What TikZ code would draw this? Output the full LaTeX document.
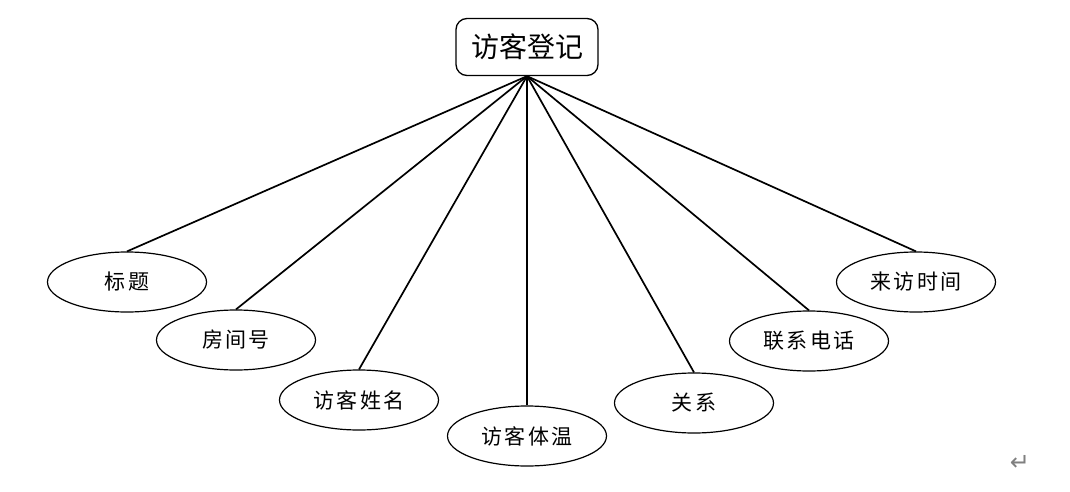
\documentclass[tikz,border=0pt]{standalone}
\usepackage{fontspec}
\setmainfont{Noto Sans CJK SC}
\newfontfamily\symfont{DejaVu Sans}
\usetikzlibrary{shapes.geometric}
\begin{document}
\begin{tikzpicture}[x=1pt,y=-1pt,
  ent/.style={draw, line width=1.3pt, rounded corners=11pt, minimum width=142pt, minimum height=57pt, inner sep=0pt, font=\fontsize{28}{32}\selectfont},
  attr/.style={draw, ellipse, line width=1.2pt, minimum width=159pt, minimum height=60pt, inner sep=0pt, font=\fontsize{21}{25}\selectfont\addfontfeatures{LetterSpace=10}},
  link/.style={line width=1.7pt}]
\useasboundingbox (0,0) rectangle (1070,492);
\node[ent] (top) at (527,47) {访客登记};
\node[attr] (a1) at (127,282) {标题};
\node[attr] (a2) at (236,340) {房间号};
\node[attr] (a3) at (359,400) {访客姓名};
\node[attr] (a4) at (527,436) {访客体温};
\node[attr] (a5) at (694,403) {关系};
\node[attr] (a6) at (809,341) {联系电话};
\node[attr] (a7) at (916,282) {来访时间};
\foreach \n in {a1,a2,a3,a4,a5,a6,a7}
  \draw[link] (top.south) -- (\n.north);
\node[text=gray, font=\symfont\fontsize{24}{26}\selectfont] (ret) at (1020,463) {↵};
\end{tikzpicture}
\end{document}
